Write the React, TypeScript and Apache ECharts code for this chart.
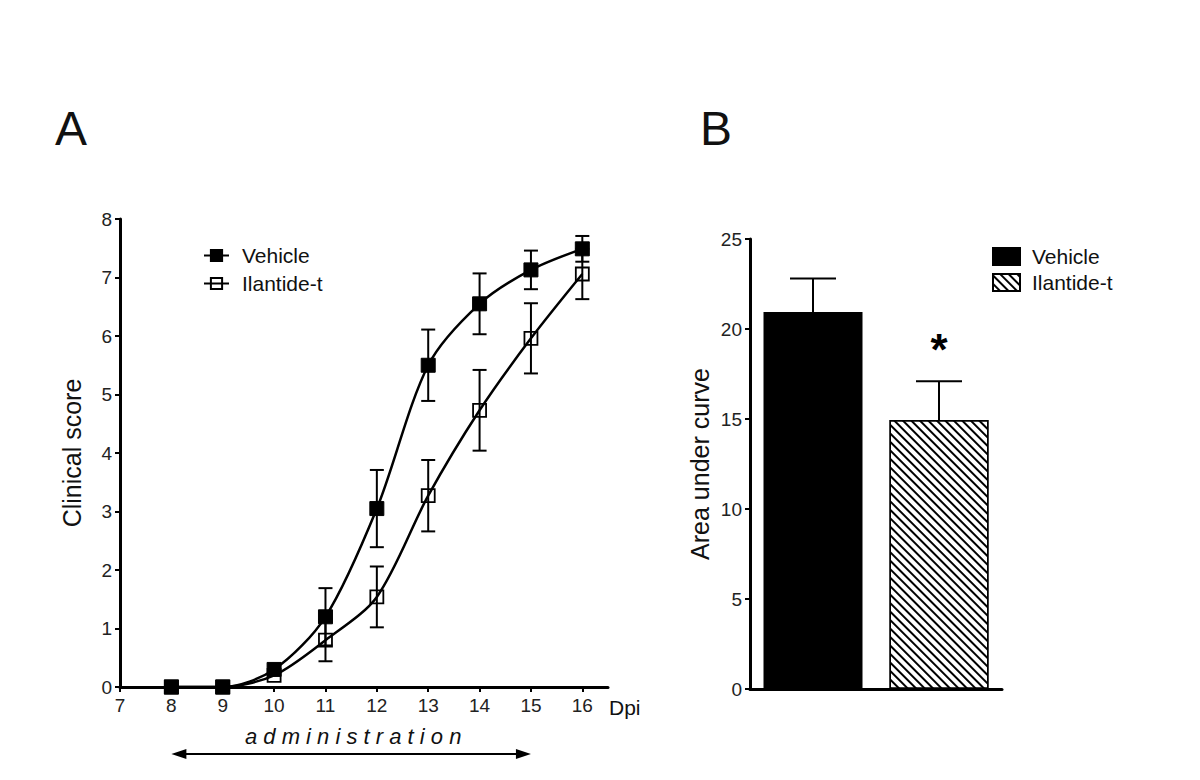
import React, { useEffect, useRef } from "react";
import * as echarts from "echarts";

// ---------- Data ----------
const dpiTicks = [7, 8, 9, 10, 11, 12, 13, 14, 15, 16];
const days = [8, 9, 10, 11, 12, 13, 14, 15, 16];
const vehicleScore = [0, 0, 0.3, 1.2, 3.05, 5.5, 6.55, 7.13, 7.49];
const vehicleSem = [0, 0, 0, 0.49, 0.66, 0.61, 0.52, 0.33, 0.22];
const ilantideScore = [0, 0, 0.2, 0.8, 1.54, 3.27, 4.73, 5.96, 7.06];
const ilantideSem = [0, 0, 0, 0.36, 0.52, 0.61, 0.69, 0.6, 0.43];
const adminRange = [8, 15];

const groups = ["Vehicle", "Ilantide-t"];
const aucMean = [20.95, 14.95];
const aucSem = [1.85, 2.15];

const FONT = "Liberation Sans, Arial, sans-serif";

export default function App() {
  const ref = useRef<HTMLDivElement>(null);

  useEffect(() => {
    if (!ref.current) return;
    const chart = echarts.init(ref.current, null, { renderer: "svg" });

    const vehLine = days.map((d, i) => [d, vehicleScore[i]]);
    const ilaLine = days.map((d, i) => [d, ilantideScore[i]]);
    const vehErr = days
      .map((d, i) => [d, vehicleScore[i] - vehicleSem[i], vehicleScore[i] + vehicleSem[i], vehicleSem[i]])
      .filter((r) => r[3] > 0);
    const ilaErr = days
      .map((d, i) => [d, ilantideScore[i] - ilantideSem[i], ilantideScore[i] + ilantideSem[i], ilantideSem[i]])
      .filter((r) => r[3] > 0);
    const aucErr = groups.map((g, i) => [i, aucMean[i], aucMean[i] + aucSem[i]]);

    const errRender = (hw: number) => (params: any, api: any) => {
      const x = api.value(0);
      const lo = api.coord([x, api.value(1)]);
      const hi = api.coord([x, api.value(2)]);
      const st = { stroke: "#000", lineWidth: 2 };
      return {
        type: "group",
        children: [
          { type: "line", shape: { x1: hi[0], y1: hi[1], x2: lo[0], y2: lo[1] }, style: st },
          { type: "line", shape: { x1: hi[0] - hw, y1: hi[1], x2: hi[0] + hw, y2: hi[1] }, style: st },
          { type: "line", shape: { x1: lo[0] - hw, y1: lo[1], x2: lo[0] + hw, y2: lo[1] }, style: st },
        ],
      };
    };
    const barErrRender = (params: any, api: any) => {
      const x = api.value(0);
      const lo = api.coord([x, api.value(1)]);
      const hi = api.coord([x, api.value(2)]);
      const st = { stroke: "#000", lineWidth: 2 };
      const hw = 23;
      return {
        type: "group",
        children: [
          { type: "line", shape: { x1: hi[0], y1: hi[1], x2: lo[0], y2: lo[1] }, style: st },
          { type: "line", shape: { x1: hi[0] - hw, y1: hi[1], x2: hi[0] + hw, y2: hi[1] }, style: st },
        ],
      };
    };

    const axisLine = { show: true, lineStyle: { color: "#000", width: 3 } };
    const axisTick = { show: true, inside: false, length: 5, lineStyle: { color: "#000", width: 2 } };
    const axisLabel = { color: "#222", fontSize: 19, fontFamily: FONT };

    const option: any = {
      animation: false,
      backgroundColor: "#fff",
      textStyle: { fontFamily: FONT },
      grid: [
        { left: 120, top: 219, width: 488, height: 468 },
        { left: 750, top: 239, width: 252, height: 450 },
      ],
      legend: [
        {
          data: ["Vehicle", "Ilantide-t"].map((n) => ({ name: n })),
          left: 203,
          top: 245,
          padding: 0,
          orient: "vertical",
          itemWidth: 25,
          itemHeight: 14,
          itemGap: 7,
          textStyle: { fontSize: 21, color: "#111", fontFamily: FONT, padding: [0, 0, 0, 8] },
          selectedMode: false,
        },
        {
          data: [{ name: "Vehicle (AUC)" }, { name: "Ilantide-t (AUC)" }],
          formatter: (n: string) => n.replace(" (AUC)", ""),
          icon: "rect",
          left: 992,
          top: 246,
          padding: 0,
          orient: "vertical",
          itemWidth: 27,
          itemHeight: 17,
          itemGap: 5,
          textStyle: { fontSize: 21, color: "#111", fontFamily: FONT, padding: [0, 0, 0, 7] },
          selectedMode: false,
        },
      ],
      xAxis: [
        {
          gridIndex: 0,
          type: "value",
          min: 7,
          max: 16.5,
          interval: 1,
          splitLine: { show: false },
          axisLine,
          axisTick: { ...axisTick, customValues: dpiTicks },
          axisLabel: { ...axisLabel, customValues: dpiTicks, margin: 9 },
        },
        {
          gridIndex: 1,
          type: "category",
          data: groups,
          axisLine,
          axisTick: { show: false },
          axisLabel: { show: false },
        },
      ],
      yAxis: [
        {
          gridIndex: 0,
          type: "value",
          min: 0,
          max: 8,
          interval: 1,
          splitLine: { show: false },
          axisLine,
          axisTick,
          axisLabel: { ...axisLabel, margin: 8 },
          name: "Clinical score",
          nameLocation: "middle",
          nameRotate: 90,
          nameGap: 36,
          nameTextStyle: { fontSize: 25, color: "#111", fontFamily: FONT },
        },
        {
          gridIndex: 1,
          type: "value",
          min: 0,
          max: 25,
          interval: 5,
          splitLine: { show: false },
          axisLine,
          axisTick,
          axisLabel: { ...axisLabel, margin: 8 },
          name: "Area under curve",
          nameLocation: "middle",
          nameRotate: 90,
          nameGap: 38,
          nameTextStyle: { fontSize: 25, color: "#111", fontFamily: FONT },
        },
      ],
      series: [
        {
          name: "Vehicle",
          type: "line",
          xAxisIndex: 0,
          yAxisIndex: 0,
          data: vehLine,
          smooth: 0.3,
          symbol: "rect",
          symbolSize: 14,
          z: 4,
          lineStyle: { color: "#000", width: 2.5 },
          itemStyle: { color: "#000", borderColor: "#000", borderWidth: 1 },
        },
        {
          name: "Ilantide-t",
          type: "line",
          xAxisIndex: 0,
          yAxisIndex: 0,
          data: ilaLine,
          smooth: 0.3,
          symbol: "rect",
          symbolSize: 13,
          z: 3,
          lineStyle: { color: "#000", width: 2.5 },
          itemStyle: { color: "rgba(255,255,255,0)", borderColor: "#000", borderWidth: 1.8 },
        },
        {
          type: "custom",
          xAxisIndex: 0,
          yAxisIndex: 0,
          data: vehErr,
          renderItem: errRender(7),
          z: 2,
          silent: true,
        },
        {
          type: "custom",
          xAxisIndex: 0,
          yAxisIndex: 0,
          data: ilaErr,
          renderItem: errRender(7),
          z: 2,
          silent: true,
        },
        {
          name: "Vehicle (AUC)",
          type: "bar",
          xAxisIndex: 1,
          yAxisIndex: 1,
          data: [aucMean[0], "-"],
          barWidth: 99,
          barGap: "-100%",
          itemStyle: { color: "#000", borderColor: "#000", borderWidth: 1.5 },
        },
        {
          name: "Ilantide-t (AUC)",
          type: "bar",
          xAxisIndex: 1,
          yAxisIndex: 1,
          data: ["-", aucMean[1]],
          barWidth: 99,
          barGap: "-100%",
          itemStyle: {
            color: "#fff",
            borderColor: "#000",
            borderWidth: 1.5,
            decal: {
              symbol: "rect",
              symbolSize: 1,
              color: "#000",
              dashArrayX: [1, 0],
              dashArrayY: [1.6, 3.4],
              rotation: Math.PI / 4,
            },
          },
          label: {
            show: true,
            position: "top",
            distance: 48,
            formatter: "*",
            fontSize: 44,
            fontWeight: "bold",
            color: "#000",
            fontFamily: FONT,
          },
        },
        {
          type: "custom",
          xAxisIndex: 1,
          yAxisIndex: 1,
          data: aucErr,
          renderItem: barErrRender,
          z: 1,
          silent: true,
        },
      ],
    };

    chart.setOption(option);

    const x0 = chart.convertToPixel({ xAxisIndex: 0 }, adminRange[0]) as number;
    const x1 = chart.convertToPixel({ xAxisIndex: 0 }, adminRange[1]) as number;
    const xEnd = chart.convertToPixel({ xAxisIndex: 0 }, 16.5) as number;
    const y0 = chart.convertToPixel({ yAxisIndex: 0 }, 0) as number;
    const ay = y0 + 67;

    chart.setOption({
      graphic: [
        { type: "text", left: 55, top: 104, style: { text: "A", font: `48px ${FONT}`, fill: "#111" } },
        { type: "text", left: 700, top: 104, style: { text: "B", font: `48px ${FONT}`, fill: "#111" } },
        {
          type: "text",
          x: xEnd + 1,
          y: y0 + 20,
          style: { text: "Dpi", font: `21px ${FONT}`, fill: "#111", verticalAlign: "middle" },
        },
        {
          type: "text",
          x: (x0 + x1) / 2 + 2,
          y: ay - 18,
          style: {
            text: "a d m i n i s t r a t i o n",
            font: `italic 22px ${FONT}`,
            fill: "#111",
            align: "center",
            verticalAlign: "middle",
          },
        },
        {
          type: "line",
          shape: { x1: x0 + 6, y1: ay, x2: x1 - 6, y2: ay },
          style: { stroke: "#000", lineWidth: 2 },
        },
        {
          type: "polygon",
          shape: { points: [[x0, ay], [x0 + 15, ay - 5], [x0 + 15, ay + 5]] },
          style: { fill: "#000" },
        },
        {
          type: "polygon",
          shape: { points: [[x1, ay], [x1 - 15, ay - 5], [x1 - 15, ay + 5]] },
          style: { fill: "#000" },
        },
      ],
    });

    return () => chart.dispose();
  }, []);

  return (
    <div
      ref={ref}
      style={{ position: "fixed", left: 0, top: 0, width: 1200, height: 780, background: "#fff" }}
    />
  );
}
